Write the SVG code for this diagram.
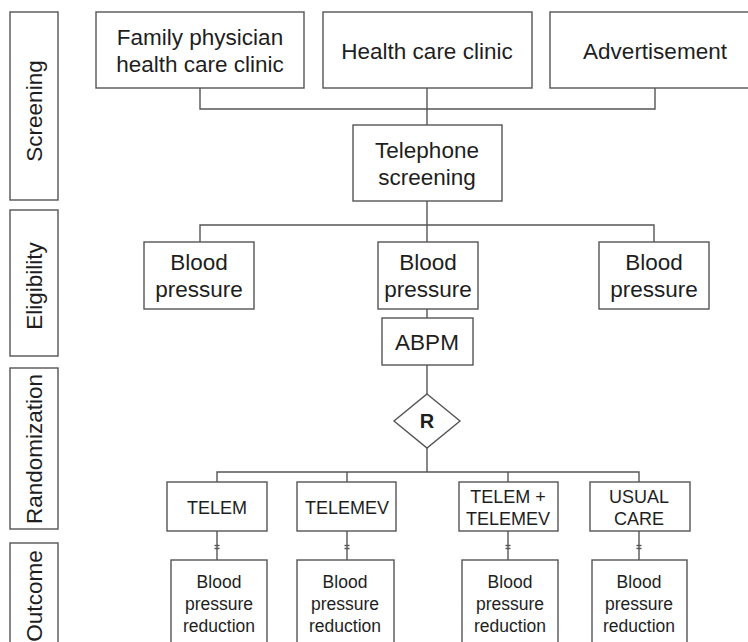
<svg xmlns="http://www.w3.org/2000/svg" width="748" height="642" viewBox="0 0 748 642">
<style>
rect, polygon { fill: #fff; stroke: #555; stroke-width: 1.4; }
.c line, .c polyline { stroke: #555; stroke-width: 1.4; fill: none; }
text { font-family: "Liberation Sans", Arial, sans-serif; fill: #1e1e1e; text-anchor: middle; }
.big { font-size: 22.5px; }
.mid { font-size: 18px; }
.sm { font-size: 17.5px; }
</style>
<rect x="0" y="0" width="748" height="642" style="fill:#fff;stroke:none"/>

<g id="stage-screening"><rect x="10" y="12" width="48" height="188"/><text class="big" transform="translate(42,111) rotate(-90)">Screening</text></g>
<g id="stage-eligibility"><rect x="10" y="210" width="48" height="146"/><text class="big" transform="translate(42,286) rotate(-90)">Eligibility</text></g>
<g id="stage-randomization"><rect x="10" y="368" width="48" height="161"/><text class="big" transform="translate(42,449) rotate(-90)">Randomization</text></g>
<g id="stage-outcome"><rect x="10" y="543" width="48" height="120"/><text class="big" transform="translate(42,596) rotate(-90)">Outcome</text></g>

<g class="c" id="connectors">
<polyline points="200,88 200,109 655,109 655,88"/>
<line x1="427" y1="88" x2="427" y2="125"/>
<line x1="427" y1="201" x2="427" y2="225"/>
<polyline points="200,242 200,225 654,225 654,242"/>
<line x1="427" y1="225" x2="427" y2="242"/>
<line x1="427" y1="309" x2="427" y2="318"/>
<line x1="427" y1="365" x2="427" y2="394"/>
<line x1="427" y1="448" x2="427" y2="472"/>
<polyline points="217,482 217,472 639,472 639,482"/>
<line x1="347" y1="472" x2="347" y2="482"/>
<line x1="508" y1="472" x2="508" y2="482"/>
<line x1="217" y1="531" x2="217" y2="560"/>
<line x1="347" y1="531" x2="347" y2="560"/>
<line x1="508" y1="531" x2="508" y2="560"/>
<line x1="639" y1="531" x2="639" y2="560"/>
<g style="stroke-width:1">
<line x1="214.5" y1="545.5" x2="219.5" y2="545.5"/><line x1="214.5" y1="548.5" x2="219.5" y2="548.5"/>
<line x1="344.5" y1="545.5" x2="349.5" y2="545.5"/><line x1="344.5" y1="548.5" x2="349.5" y2="548.5"/>
<line x1="505.5" y1="545.5" x2="510.5" y2="545.5"/><line x1="505.5" y1="548.5" x2="510.5" y2="548.5"/>
<line x1="636.5" y1="545.5" x2="641.5" y2="545.5"/><line x1="636.5" y1="548.5" x2="641.5" y2="548.5"/>
</g>
</g>

<g id="family"><rect x="96" y="12" width="208" height="76"/><text class="big" x="200" y="45">Family physician</text><text class="big" x="200" y="72">health care clinic</text></g>
<g id="clinic"><rect x="323" y="12" width="209" height="76"/><text class="big" x="427" y="59">Health care clinic</text></g>
<g id="advert"><rect x="550" y="12" width="210" height="76"/><text class="big" x="655" y="59">Advertisement</text></g>
<g id="telephone"><rect x="353" y="125" width="149" height="76"/><text class="big" x="427" y="158">Telephone</text><text class="big" x="427" y="185">screening</text></g>

<g id="bp1"><rect x="144" y="242" width="110" height="67"/><text class="big" x="199" y="270">Blood</text><text class="big" x="199" y="297">pressure</text></g>
<g id="bp2"><rect x="378" y="242" width="100" height="67"/><text class="big" x="428" y="270">Blood</text><text class="big" x="428" y="297">pressure</text></g>
<g id="bp3"><rect x="599" y="242" width="110" height="67"/><text class="big" x="654" y="270">Blood</text><text class="big" x="654" y="297">pressure</text></g>
<g id="abpm"><rect x="382" y="318" width="91" height="47"/><text class="big" x="427" y="350">ABPM</text></g>
<g id="random"><polygon points="427,394 460,421 427,448 394,421"/><text x="427" y="428" style="font-size:20px;font-weight:bold">R</text></g>

<g id="telem"><rect x="167" y="482" width="100" height="49"/><text class="mid" x="217" y="514">TELEM</text></g>
<g id="telemev"><rect x="297" y="482" width="99" height="49"/><text class="mid" x="347" y="514">TELEMEV</text></g>
<g id="both"><rect x="459" y="482" width="99" height="49"/><text class="mid" x="508" y="503">TELEM +</text><text class="mid" x="508" y="525">TELEMEV</text></g>
<g id="usual"><rect x="590" y="482" width="100" height="49"/><text class="mid" x="639" y="503">USUAL</text><text class="mid" x="639" y="525">CARE</text></g>

<g id="out1"><rect x="171" y="560" width="96" height="100"/><text class="sm" x="219" y="588">Blood</text><text class="sm" x="219" y="610">pressure</text><text class="sm" x="219" y="632">reduction</text></g>
<g id="out2"><rect x="297" y="560" width="97" height="100"/><text class="sm" x="345" y="588">Blood</text><text class="sm" x="345" y="610">pressure</text><text class="sm" x="345" y="632">reduction</text></g>
<g id="out3"><rect x="462" y="560" width="96" height="100"/><text class="sm" x="510" y="588">Blood</text><text class="sm" x="510" y="610">pressure</text><text class="sm" x="510" y="632">reduction</text></g>
<g id="out4"><rect x="592" y="560" width="95" height="100"/><text class="sm" x="639" y="588">Blood</text><text class="sm" x="639" y="610">pressure</text><text class="sm" x="639" y="632">reduction</text></g>
</svg>
